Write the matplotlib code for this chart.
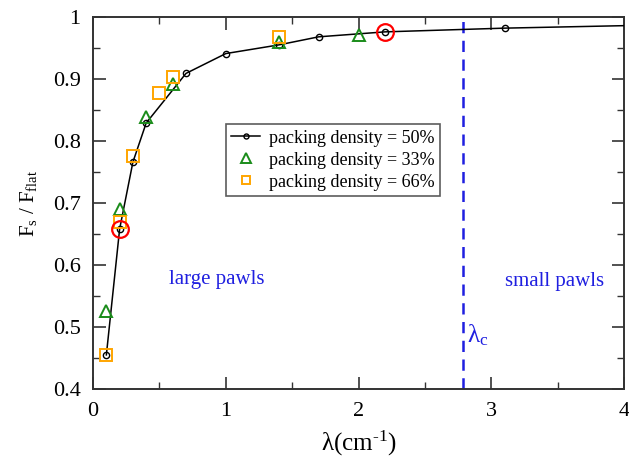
import matplotlib.pyplot as plt
from matplotlib.ticker import MultipleLocator

plt.rcParams['font.family'] = ['Liberation Serif', 'DejaVu Serif']
plt.rcParams['mathtext.fontset'] = 'custom'
plt.rcParams['mathtext.rm'] = 'Liberation Serif'
plt.rcParams['mathtext.it'] = 'Liberation Serif:italic'

# packing density = 50%
x50 = [0.1, 0.2, 0.3, 0.4, 0.7, 1.0, 1.4, 1.7, 2.2, 3.1, 4.0]
y50 = [0.455, 0.658, 0.766, 0.829, 0.909, 0.941, 0.955, 0.968, 0.976, 0.982, 0.986]
# packing density = 33%
x33 = [0.1, 0.2, 0.4, 0.6, 1.4, 2.0]
y33 = [0.526, 0.690, 0.838, 0.892, 0.959, 0.971]
# packing density = 66%
x66 = [0.1, 0.2, 0.3, 0.5, 0.6, 1.4]
y66 = [0.455, 0.670, 0.776, 0.877, 0.903, 0.967]
# highlighted points
xred = [0.2, 2.2]
yred = [0.658, 0.976]
lam_c = 2.79

fig = plt.figure(figsize=(6.29, 4.59), dpi=100)
ax = fig.add_axes([0.148, 0.1525, 0.844, 0.8105])

ax.plot(x50, y50, '-', color='black', lw=1.1, marker='o', ms=4.5, mfc='none',
        mec='black', mew=1.0, markevery=list(range(len(x50) - 1)),
        label='packing density = 50%', zorder=3)
ax.plot(x33, y33, '^', ms=9, mfc='none', mec='#1a8c1a', mew=1.4,
        ls='none', label='packing density = 33%', zorder=4)
ax.plot(x66, y66, 's', ms=8, mfc='none', mec='#ffa500', mew=1.4,
        ls='none', label='packing density = 66%', zorder=4)
ax.plot(xred, yred, 'o', ms=12, mfc='none', mec='red', mew=1.6, ls='none', zorder=5)

ax.axvline(lam_c, color='#1f1fe0', lw=1.8, ls=(0, (4.5, 3)), zorder=2)

ax.text(0.93, 0.577, 'large pawls', color='#1f1fe0', fontsize=15, ha='center', va='center')
ax.text(3.48, 0.573, 'small pawls', color='#1f1fe0', fontsize=15, ha='center', va='center')
ax.text(2.82, 0.487, r'λ$_{\mathrm{c}}$', color='#1f1fe0', fontsize=18, ha='left', va='center')

ax.set_xlim(0, 4)
ax.set_ylim(0.4, 1.0)
ax.xaxis.set_major_locator(MultipleLocator(1))
ax.xaxis.set_minor_locator(MultipleLocator(0.5))
ax.yaxis.set_major_locator(MultipleLocator(0.1))
ax.yaxis.set_minor_locator(MultipleLocator(0.05))
ax.set_yticks([0.4, 0.5, 0.6, 0.7, 0.8, 0.9, 1.0])
ax.set_yticklabels(['0.4', '0.5', '0.6', '0.7', '0.8', '0.9', '1'])
ax.tick_params(which='both', direction='in', top=True, right=True, labelsize=16, color='#333333')
ax.tick_params(which='major', length=9, width=1.2, pad=9)
ax.tick_params(which='minor', length=5, width=1.0)
for s in ax.spines.values():
    s.set_linewidth(1.4)
    s.set_color('#333333')

ax.set_xlabel(r'λ(cm$^{\text{-1}}$)', fontsize=18, labelpad=6)
ax.set_ylabel(r'F$_{\mathrm{s}}$ / F$_{\mathrm{flat}}$', fontsize=15, labelpad=10)

leg = ax.legend(loc='upper left', bbox_to_anchor=(0.25, 0.712), fontsize=13,
                frameon=True, fancybox=False, edgecolor='#333333', borderaxespad=0,
                handlelength=1.6, handletextpad=0.5, borderpad=0.3, labelspacing=0.28,
                markerscale=0.8)
leg.get_frame().set_linewidth(1.2)

fig.savefig('out.png', dpi=100)
